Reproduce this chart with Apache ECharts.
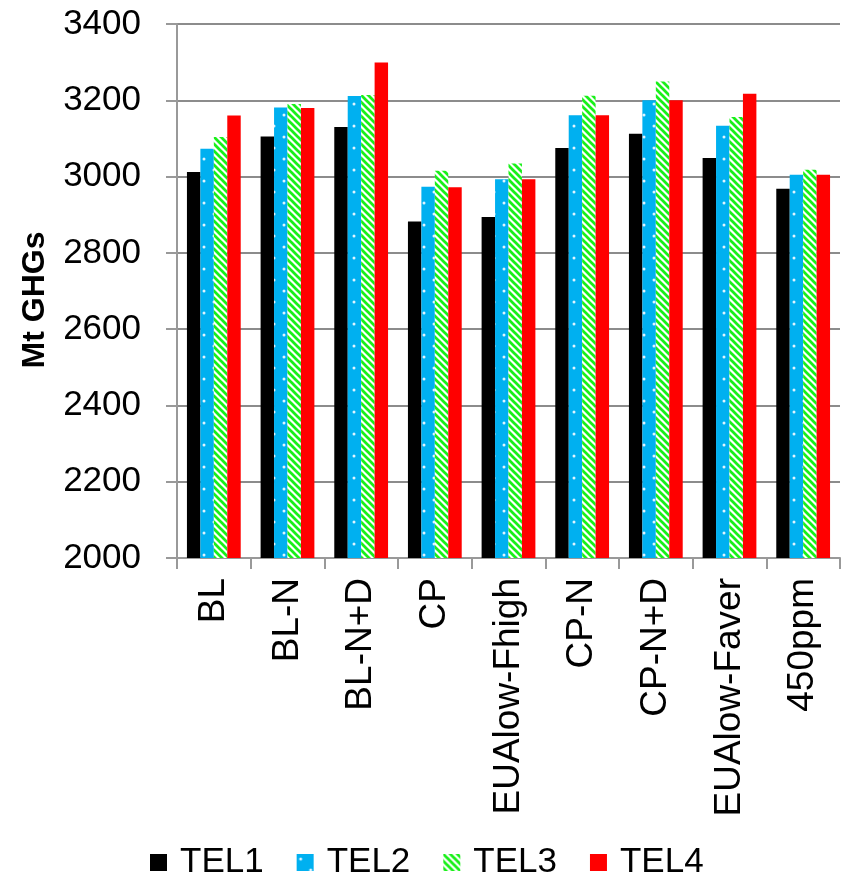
<!DOCTYPE html>
<html>
<head>
<meta charset="utf-8">
<script src="https://cdn.jsdelivr.net/npm/echarts@6/dist/echarts.min.js"></script>
<style>
  html, body { margin: 0; padding: 0; background: #ffffff; }
  #chart { width: 848px; height: 886px; }
</style>
</head>
<body>
<div id="chart"></div>
<script>
// Scenario names along the category axis
const scenarios = ['BL', 'BL-N', 'BL-N+D', 'CP', 'EUAlow-Fhigh', 'CP-N', 'CP-N+D', 'EUAlow-Faver', '450ppm'];

// Emissions per scenario (Mt GHGs) for each TEL variant
const tel1 = [3012, 3105, 3130, 2882, 2894, 3075, 3112, 3049, 2968];
const tel2 = [3073, 3181, 3211, 2973, 2993, 3161, 3200, 3133, 3005];
const tel3 = [3104, 3190, 3214, 3015, 3034, 3212, 3249, 3156, 3018];
const tel4 = [3160, 3180, 3299, 2972, 2993, 3161, 3200, 3217, 3005];

const seriesNames = ['TEL1', 'TEL2', 'TEL3', 'TEL4'];

// Value axis range
const yMin = 2000;
const yMax = 3400;
const yStep = 200;

const FONT = "'Liberation Sans', Arial, Helvetica, sans-serif";

// Blue fill sprinkled with small white dots
function dottedPattern() {
  const c = document.createElement('canvas');
  c.width = 20; c.height = 22;
  const g = c.getContext('2d');
  g.fillStyle = '#00B0F0';
  g.fillRect(0, 0, c.width, c.height);
  g.fillStyle = 'rgba(235,248,255,0.95)';
  g.beginPath(); g.arc(4, 5, 1.5, 0, Math.PI * 2); g.fill();
  g.beginPath(); g.arc(14, 16, 1.5, 0, Math.PI * 2); g.fill();
  return { image: c, repeat: 'repeat' };
}

// Green and white diagonal stripes running top-left to bottom-right
function stripePattern() {
  const s = 7;
  const c = document.createElement('canvas');
  c.width = s; c.height = s;
  const g = c.getContext('2d');
  g.fillStyle = '#ffffff';
  g.fillRect(0, 0, s, s);
  g.strokeStyle = '#19F019';
  g.lineWidth = s / Math.SQRT2 * 0.55;
  for (let k = -s; k <= s; k += s) {
    g.beginPath();
    g.moveTo(-1, -1 + k);
    g.lineTo(s + 1, s + 1 + k);
    g.stroke();
  }
  return { image: c, repeat: 'repeat' };
}

const fills = ['#000000', dottedPattern(), stripePattern(), '#FF0000'];
const values = [tel1, tel2, tel3, tel4];

const chart = echarts.init(document.getElementById('chart'), null, { renderer: 'canvas' });

chart.setOption({
  animation: false,
  backgroundColor: '#ffffff',
  textStyle: { fontFamily: FONT },
  grid: { left: 177, right: 8, top: 24, bottom: 328, containLabel: false },
  legend: {
    data: seriesNames,
    left: 150,
    top: 845,
    padding: 0,
    itemWidth: 17,
    itemHeight: 17,
    itemGap: 33,
    icon: 'rect',
    textStyle: { fontSize: 35, color: '#000000', fontFamily: FONT, padding: [0, 0, 0, 8] }
  },
  xAxis: {
    type: 'category',
    data: scenarios,
    boundaryGap: true,
    axisLine: { show: true, lineStyle: { color: '#999999', width: 2 } },
    axisTick: { show: true, length: 11, alignWithLabel: false, lineStyle: { color: '#999999', width: 2 } },
    axisLabel: { rotate: 90, margin: 20, fontSize: 37, color: '#000000', fontFamily: FONT, interval: 0 },
    splitLine: { show: false }
  },
  yAxis: {
    type: 'value',
    min: yMin,
    max: yMax,
    interval: yStep,
    axisLine: { show: true, lineStyle: { color: '#999999', width: 2 } },
    axisTick: { show: true, length: 11, lineStyle: { color: '#999999', width: 2 } },
    axisLabel: { margin: 36, fontSize: 35, color: '#000000', fontFamily: FONT, formatter: (v) => String(v) },
    splitLine: { show: true, lineStyle: { color: '#8c8c8c', width: 2 } }
  },
  graphic: [{
    type: 'text',
    x: 35,
    y: 300,
    rotation: Math.PI / 2,
    style: {
      text: 'Mt GHGs',
      fontSize: 32,
      fontWeight: 'bold',
      fontFamily: FONT,
      fill: '#000000',
      align: 'center',
      verticalAlign: 'middle'
    }
  }],
  series: seriesNames.map((name, i) => ({
    name: name,
    type: 'bar',
    data: values[i],
    barGap: '0%',
    barCategoryGap: '27%',
    itemStyle: { color: fills[i] }
  }))
});
</script>
</body>
</html>
